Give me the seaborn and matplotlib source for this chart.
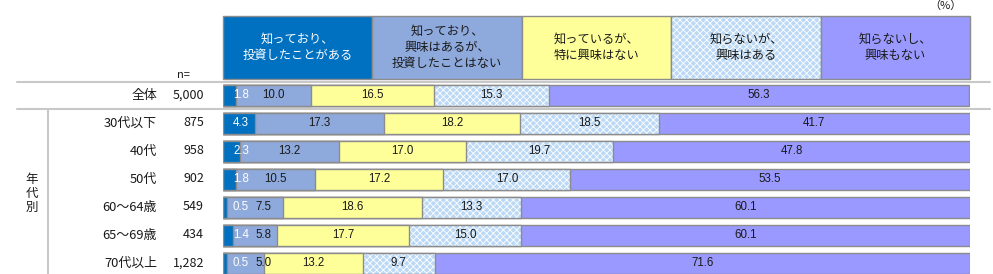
import matplotlib
matplotlib.use("Agg")
import matplotlib.pyplot as plt
from matplotlib.patches import Rectangle
from matplotlib.lines import Line2D
import seaborn as sns
import numpy as np
import pandas as pd

groups = ['全体', '30代以下', '40代', '50代', '60～64歳', '65～69歳', '70代以上']
n_values = ['5,000', '875', '958', '902', '549', '434', '1,282']
s1 = [1.8, 4.3, 2.3, 1.8, 0.5, 1.4, 0.5]
s2 = [10.0, 17.3, 13.2, 10.5, 7.5, 5.8, 5.0]
s3 = [16.5, 18.2, 17.0, 17.2, 18.6, 17.7, 13.2]
s4 = [15.3, 18.5, 19.7, 17.0, 13.3, 15.0, 9.7]
s5 = [56.3, 41.7, 47.8, 53.5, 60.1, 60.1, 71.6]
series_names = ['知っており、\n投資したことがある',
                '知っており、\n興味はあるが、\n投資したことはない',
                '知っているが、\n特に興味はない',
                '知らないが、\n興味はある',
                '知らないし、\n興味もない']

colors = ['#0070C0', '#8EA9DB', '#FFFF99', '#BBD9F6', '#9999FF']
edge = '#8C8C8C'
txt = '#1a1a1a'

sns.set_theme(style='white')
plt.rcParams['font.family'] = ['Noto Sans CJK JP', 'DejaVu Sans']
plt.rcParams['hatch.linewidth'] = 0.6

W, H = 993, 274
fig = plt.figure(figsize=(W / 100, H / 100), dpi=100)

def fx(px):
    return px / W

def fy(py):
    return 1 - py / H

x0, x1 = 223, 970
ax = fig.add_axes([fx(x0), 0, (x1 - x0) / W, 1])

vals = np.array([s1, s2, s3, s4, s5])
cum = np.cumsum(vals, axis=0)
df = pd.DataFrame({'group': groups})
for k in range(5):
    df[f'c{k}'] = cum[k]

bw = 0.75
hatch = 'xxxxx'
# draw from longest to shortest so that each stacked segment shows
for k in [4, 3, 2, 1, 0]:
    if k == 3:
        before = len(ax.patches)
        sns.barplot(data=df, x=f'c{k}', y='group', orient='h', color=colors[k],
                    saturation=1, width=bw, edgecolor='white', linewidth=0, ax=ax)
        for p in ax.patches[before:]:
            p.set_hatch(hatch)
        sns.barplot(data=df, x=f'c{k}', y='group', orient='h', color=edge,
                    fill=False, saturation=1, width=bw, linewidth=1.0, ax=ax)
    else:
        sns.barplot(data=df, x=f'c{k}', y='group', orient='h', color=colors[k],
                    saturation=1, width=bw, edgecolor=edge, linewidth=1.0, ax=ax)

# row center pixel = 95 + 28*i
ax.set_xlim(0, 100)
ax.set_ylim((H - 95) / 28, -95 / 28)
ax.axis('off')

# value labels
for i in range(len(groups)):
    starts = np.concatenate([[0], cum[:-1, i]])
    for k in range(5):
        v = vals[k, i]
        xc = starts[k] + v / 2
        c = txt
        if k == 0:
            xc = max(xc, 2.4)
            c = 'white'
        if k == 1:
            xc = max(xc, 5.4)
        ax.text(xc, i, f'{v:.1f}', ha='center', va='center', fontsize=8.3, color=c,
                family=['Liberation Sans', 'DejaVu Sans'])

# header legend boxes
ytop, ybot = (16 - 95) / 28, (79 - 95) / 28
for k in range(5):
    rect = Rectangle((20 * k, ytop), 20, ybot - ytop, facecolor=colors[k],
                     edgecolor='white' if k == 3 else edge, linewidth=0,
                     hatch=hatch if k == 3 else None, clip_on=False)
    ax.add_patch(rect)
    ax.add_patch(Rectangle((20 * k, ytop), 20, ybot - ytop, fill=False,
                           edgecolor=edge, linewidth=1.0, clip_on=False))
    ax.text(20 * k + 10, (ytop + ybot) / 2, series_names[k], ha='center', va='center',
            fontsize=8.8, color='white' if k == 0 else txt, linespacing=1.3)

# left labels
for i, (g, nv) in enumerate(zip(groups, n_values)):
    ypx = 95 + 28 * i
    fig.text(fx(157), fy(ypx), g, ha='right', va='center', fontsize=9.3, color=txt)
    fig.text(fx(204), fy(ypx), nv, ha='right', va='center', fontsize=9, color=txt)

fig.text(fx(183), fy(75), 'n=', ha='center', va='center', fontsize=8, color=txt)
for j, ch in enumerate('年代別'):
    fig.text(fx(32), fy(179 + 14 * j), ch, ha='center', va='center', fontsize=9, color=txt)
fig.text(fx(945), fy(6), '（%）', ha='center', va='center', fontsize=8, color=txt)

# separator lines
lc = '#C8C8C8'
for ypx in (82, 109):
    fig.add_artist(Line2D([fx(17), fx(990)], [fy(ypx), fy(ypx)], color=lc, lw=1.5,
                          transform=fig.transFigure))
fig.add_artist(Line2D([fx(48), fx(48)], [fy(110), fy(274)], color=lc, lw=1.5,
                      transform=fig.transFigure))

fig.savefig('out.png', dpi=100)
